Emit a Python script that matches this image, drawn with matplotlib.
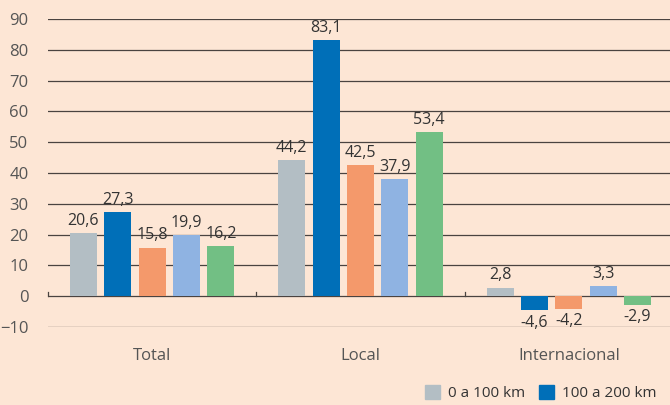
import numpy as np
import matplotlib.pyplot as plt
from matplotlib.patches import Patch

plt.rcParams['font.family'] = ['Open Sans', 'DejaVu Sans']

# Data
categories = ['Total', 'Local', 'Internacional']
series_names = ['0 a 100 km', '100 a 200 km', 'Serie 3', 'Serie 4', 'Serie 5']
values = [
    [20.6, 44.2, 2.8],
    [27.3, 83.1, -4.6],
    [15.8, 42.5, -4.2],
    [19.9, 37.9, 3.3],
    [16.2, 53.4, -2.9],
]
colors = ['#b3bec4', '#006fb8', '#f4996b', '#8fb3e2', '#72bf84']
bg = '#fde6d5'

fig = plt.figure(figsize=(6.7, 4.05), dpi=100, facecolor=bg)
ax = fig.add_axes([48 / 670, 1 - 327 / 405, 625 / 670, 308 / 405], facecolor=bg)

x = np.arange(len(categories)) + 0.5
width = 0.13
step = 0.165
for i, (vals, c) in enumerate(zip(values, colors)):
    xs = x + (i - 2) * step
    ax.bar(xs, vals, width, color=c, zorder=3)
    for xi, v in zip(xs, vals):
        lbl = f'{v:.1f}'.replace('.', ',')
        if v >= 0:
            ax.annotate(lbl, (xi, v), xytext=(0, 3), textcoords='offset points',
                        ha='center', va='bottom', fontsize=11.5, color='#333333')
        else:
            ax.annotate(lbl, (xi, v), xytext=(0, -3), textcoords='offset points',
                        ha='center', va='top', fontsize=11.5, color='#333333')

# gridlines
for yv in range(-10, 100, 10):
    ax.axhline(yv, color='#4a4340', lw=0.9, zorder=1)
# small ticks on zero line between groups
for xt in range(0, len(categories) + 1):
    ax.plot([xt, xt], [0, 1.3], color='#4a4340', lw=0.9, zorder=2, clip_on=False)

ax.set_xlim(0, 3)
ax.set_ylim(-10, 90)
ax.set_yticks(range(-10, 100, 10))
ax.set_xticks(x)
ax.set_xticklabels(categories)
ax.tick_params(axis='y', length=0, pad=14, labelsize=12, labelcolor='#555555')
ax.tick_params(axis='x', length=0, pad=15, labelsize=12, labelcolor='#555555')
for s in ax.spines.values():
    s.set_visible(False)

handles = [Patch(color=colors[0]), Patch(color=colors[1])]
fig.legend(handles, series_names[:2], loc='center left', bbox_to_anchor=(422 / 670, 12 / 405),
           ncol=2, frameon=False, fontsize=11, handlelength=1.0, handleheight=1.0,
           handletextpad=0.5, columnspacing=0.9, labelcolor='#333333',
           borderaxespad=0, borderpad=0.2)

plt.savefig('out.png', dpi=100, facecolor=bg)
